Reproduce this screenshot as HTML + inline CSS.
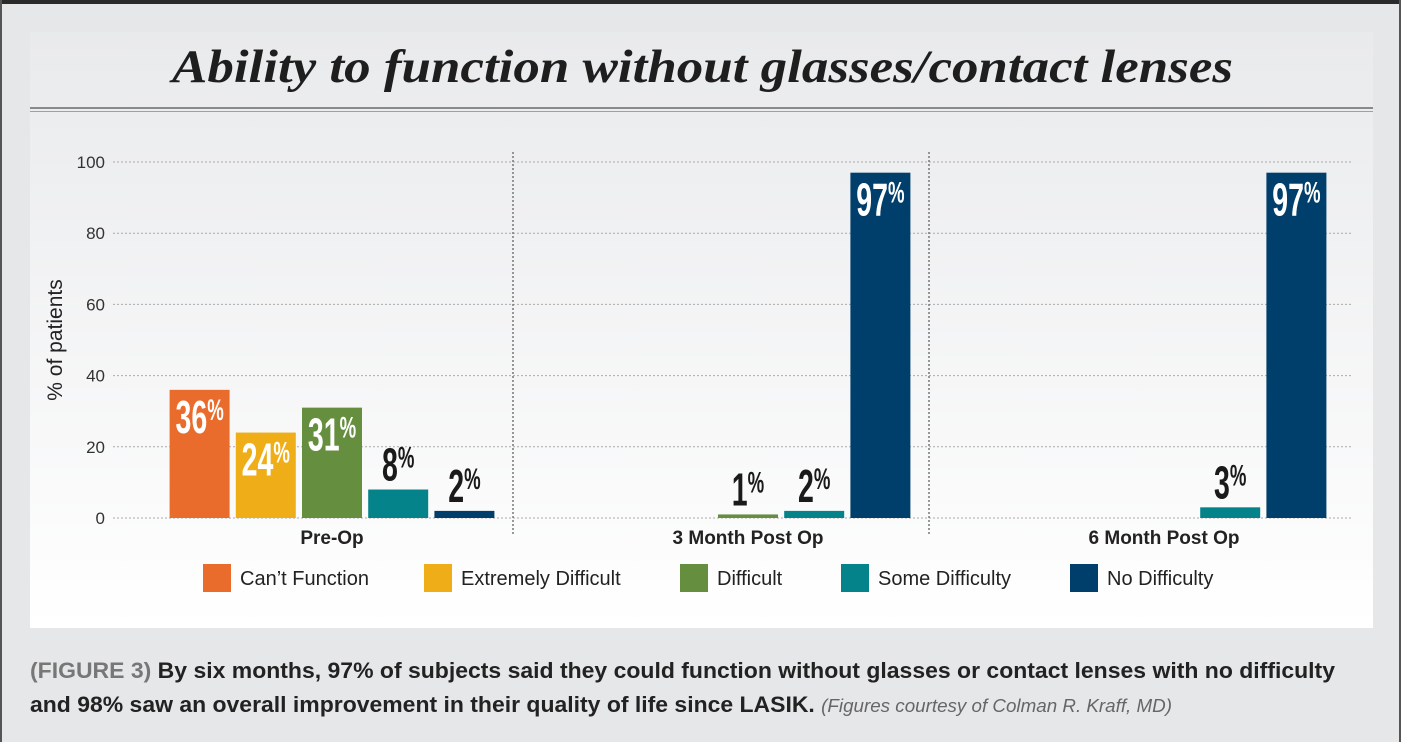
<!DOCTYPE html>
<html><head><meta charset="utf-8"><style>
body{margin:0;width:1401px;height:742px;overflow:hidden;background:#e6e7e9;font-family:"Liberation Sans",sans-serif}
svg{display:block}
.cond{font-family:"Liberation Sans Narrow","Liberation Sans",sans-serif}
</style></head><body>
<svg id="c" width="1401" height="742">
<defs><linearGradient id="pg" x1="0" y1="0" x2="0" y2="1"><stop offset="0" stop-color="#e9eaec"/><stop offset="1" stop-color="#ffffff"/></linearGradient></defs>
<rect x="0" y="0" width="1401" height="742" fill="#e6e7e9"/>
<rect x="0" y="0" width="1401" height="4" fill="#2a2a2a"/>
<rect x="0" y="0" width="2" height="742" fill="#555"/>
<rect x="1399" y="0" width="2" height="742" fill="#555"/>
<rect x="30" y="32" width="1343" height="596" fill="url(#pg)"/>
<text x="172" y="82" font-family="Liberation Serif,serif" font-style="italic" font-weight="bold" font-size="47" fill="#1e1e1e" textLength="1061" lengthAdjust="spacingAndGlyphs">Ability to function without glasses/contact lenses</text>
<rect x="30" y="107" width="1343" height="2" fill="#8a8a8a"/>
<rect x="30" y="111" width="1343" height="1" fill="#a0a0a0"/>
<text transform="translate(62,340) rotate(-90)" text-anchor="middle" font-size="21" fill="#222">% of patients</text>
<g id="plot"></g>
<g id="legend"></g>
<text x="30" y="678" font-size="22" font-weight="bold" class="cond" fill="#222" textLength="1305" lengthAdjust="spacingAndGlyphs"><tspan fill="#777">(FIGURE 3)</tspan> By six months, 97% of subjects said they could function without glasses or contact lenses with no difficulty</text>
<text x="30" y="712" font-size="22" font-weight="bold" class="cond" fill="#222" textLength="1142" lengthAdjust="spacingAndGlyphs">and 98% saw an overall improvement in their quality of life since LASIK. <tspan font-weight="normal" font-style="italic" fill="#666" font-size="18">(Figures courtesy of Colman R. Kraff, MD)</tspan></text>
</svg>
<script>
const groups=["Pre-Op","3 Month Post Op","6 Month Post Op"];
const seriesNames=["Can\u2019t Function","Extremely Difficult","Difficult","Some Difficulty","No Difficulty"];
const preOp=[36,24,31,8,2];
const month3=[0,0,1,2,97];
const month6=[0,0,0,3,97];
const yTicks=[0,20,40,60,80,100];
const colors=["#ea6c2c","#efae17","#658e3f","#04838a","#003f6b"];
const NS="http://www.w3.org/2000/svg";
const plot=document.getElementById('plot'),leg=document.getElementById('legend');
function mk(t,a,p){const e=document.createElementNS(NS,t);for(const k in a)e.setAttribute(k,a[k]);(p||plot).appendChild(e);return e;}
const y0=518,y100=162,xL=113,xR=1352;
const y=v=>y0-(y0-y100)*v/100;
const gc=i=>332+i*416;
const bx=(g,s)=>gc(g)+(s-2)*66.2-30;
yTicks.forEach(t=>{
 const l=mk('line',{x1:xL,x2:xR,y1:y(t),y2:y(t),stroke:'#aaa','stroke-dasharray':'2,2','stroke-width':1});
 
 const tx=mk('text',{x:105,y:y(t)+6,'text-anchor':'end','font-size':17,fill:'#333'});tx.textContent=t;
 
});
[0,1].forEach(i=>{const l=mk('line',{x1:gc(i)+181,x2:gc(i)+181,y1:152,y2:535,stroke:'#777','stroke-dasharray':'2,2','stroke-width':1.5});
 });
[preOp,month3,month6].forEach((vals,g)=>{
 vals.forEach((v,s)=>{
  if(v<=0)return;
  const x=bx(g,s);
  const r=mk('rect',{x:x,y:y(v),width:60,height:y0-y(v),fill:colors[s]});
  
  
  const inside=v>15;
  const ty=inside?y(v)+43:y(v)-9;
  const t=mk('text',{transform:'translate('+(x+30)+','+ty+') scale(0.62,1)','text-anchor':'middle','font-size':46,'font-weight':'bold',fill:inside?'#fff':'#1a1a1a'});
  t.innerHTML=v+'<tspan font-size="30" dy="-13">%</tspan>';
  
 });
 const gl=mk('text',{x:gc(g),y:544,'text-anchor':'middle','font-size':19,'font-weight':'bold','class':'cond',fill:'#222'});
 gl.textContent=groups[g];
 
});
const lx=[203,424,680,841,1070];
seriesNames.forEach((n,i)=>{
 const g=mk('g',{},leg);
 
 mk('rect',{x:lx[i],y:564,width:28,height:28,fill:colors[i]},g);
 const t=mk('text',{x:lx[i]+37,y:585,'font-size':20,fill:'#222'},g);t.textContent=n;
});
</script>
</body></html>
